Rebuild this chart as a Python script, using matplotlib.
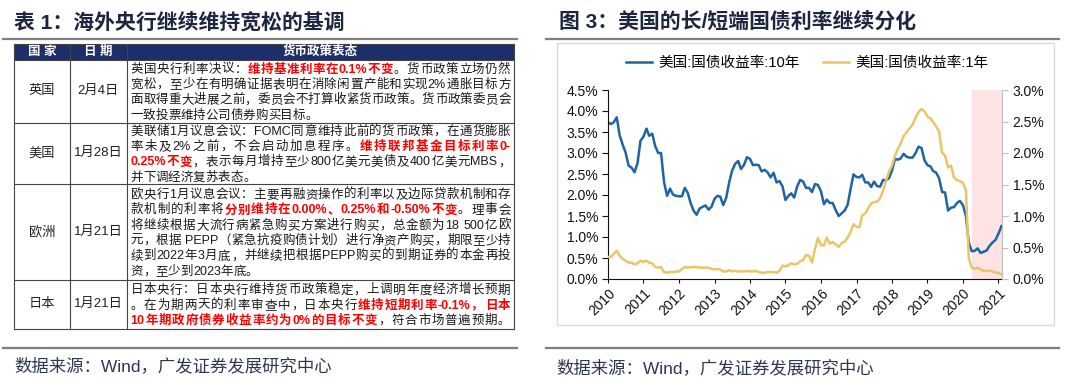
import numpy as np
import pandas as pd
import matplotlib
matplotlib.use('Agg')
import matplotlib.pyplot as plt
from matplotlib.patches import Rectangle
from matplotlib.ticker import FuncFormatter
from matplotlib.font_manager import FontProperties, findfont, get_font

plt.rcParams['font.family'] = ['Liberation Sans', 'Noto Sans CJK SC']

# ---- 数据 ----
left_title = '表 1：海外央行继续维持宽松的基调'
right_title = '图 3：美国的长/短端国债利率继续分化'
source = '数据来源：Wind，广发证券发展研究中心'

header = ['国 家', '日 期', '货币政策表态']
countries = ['英国', '美国', '欧洲', '日本']
dates = ['2月4日', '1月28日', '1月21日', '1月21日']
# {...} 表示红色加粗
policy = [
    ['英国央行利率决议：{维持基准利率在0.1%不变}。货币政策立场仍然',
     '宽松，至少在有明确证据表明在消除闲置产能和实现2%通胀目标方',
     '面取得重大进展之前，委员会不打算收紧货币政策。货币政策委员会',
     '一致投票维持公司债券购买目标。'],
    ['美联储1月议息会议：FOMC同意维持此前的货币政策，在通货膨胀',
     '率未及2%之前，不会启动加息程序。{维持联邦基金目标利率0-}',
     '{0.25%不变}，表示每月增持至少800亿美元美债及400亿美元MBS，',
     '并下调经济复苏表态。'],
    ['欧央行1月议息会议：主要再融资操作的利率以及边际贷款机制和存',
     '款机制的利率将{分别维持在0.00%、0.25%和-0.50%不变}。理事会',
     '将继续根据大流行病紧急购买方案进行购买，总金额为18 500亿欧',
     '元，根据 PEPP（紧急抗疫购债计划）进行净资产购买，期限至少持',
     '续到2022年3月底，并继续把根据PEPP购买的到期证券的本金再投',
     '资，至少到2023年底。'],
    ['日本央行：日本央行维持货币政策稳定，上调明年度经济增长预期',
     '。在为期两天的利率审查中，日本央行{维持短期利率-0.1%，日本}',
     '{10年期政府债券收益率约为0%的目标不变}，符合市场普遍预期。'],
]
justify = [[1, 1, 1, 0], [1, 1, 1, 0], [1, 1, 1, 1, 1, 0], [1, 1, 1]]

legend_labels = ['美国:国债收益率:10年', '美国:国债收益率:1年']
months = pd.date_range('2010-01-01', '2021-02-01', freq='MS')
# 美国10年期国债收益率（%），月度
y10 = [3.73, 3.69, 3.73, 3.85, 3.42, 3.20, 3.01, 2.70, 2.65, 2.54, 2.76, 3.29,
       3.39, 3.58, 3.41, 3.46, 3.17, 3.00, 3.00, 2.30, 1.98, 2.15, 2.01, 1.98,
       1.97, 1.97, 2.17, 2.05, 1.80, 1.62, 1.53, 1.68, 1.72, 1.75, 1.65, 1.72,
       1.91, 1.98, 1.96, 1.76, 1.93, 2.30, 2.58, 2.74, 2.81, 2.62, 2.72, 2.90,
       2.86, 2.71, 2.72, 2.71, 2.56, 2.60, 2.54, 2.42, 2.53, 2.30, 2.33, 2.21,
       1.88, 1.98, 2.04, 1.94, 2.20, 2.36, 2.32, 2.17, 2.17, 2.07, 2.26, 2.24,
       2.09, 1.78, 1.89, 1.81, 1.81, 1.64, 1.50, 1.56, 1.63, 1.76, 2.14, 2.49,
       2.43, 2.42, 2.48, 2.30, 2.30, 2.19, 2.32, 2.21, 2.20, 2.36, 2.35, 2.40,
       2.58, 2.86, 2.84, 2.87, 2.98, 2.91, 2.89, 2.89, 3.00, 3.15, 3.12, 2.83,
       2.71, 2.68, 2.57, 2.53, 2.40, 2.07, 2.06, 1.63, 1.70, 1.71, 1.81, 1.86,
       1.76, 1.50, 0.87, 0.66, 0.67, 0.73, 0.62, 0.65, 0.68, 0.79, 0.87, 0.93,
       1.08, 1.26]
# 美国1年期国债收益率（%），月度
y1 = [0.35, 0.35, 0.40, 0.45, 0.37, 0.32, 0.29, 0.26, 0.26, 0.23, 0.25, 0.29,
      0.27, 0.29, 0.26, 0.25, 0.19, 0.18, 0.19, 0.11, 0.10, 0.11, 0.11, 0.12,
      0.12, 0.16, 0.19, 0.18, 0.19, 0.19, 0.19, 0.18, 0.18, 0.18, 0.18, 0.16,
      0.15, 0.16, 0.15, 0.12, 0.12, 0.14, 0.12, 0.13, 0.12, 0.12, 0.12, 0.13,
      0.12, 0.12, 0.13, 0.11, 0.10, 0.10, 0.11, 0.11, 0.11, 0.10, 0.13, 0.21,
      0.20, 0.22, 0.25, 0.23, 0.24, 0.28, 0.30, 0.38, 0.37, 0.26, 0.48, 0.65,
      0.54, 0.53, 0.66, 0.56, 0.59, 0.55, 0.51, 0.57, 0.59, 0.66, 0.74, 0.87,
      0.83, 0.82, 1.01, 1.04, 1.12, 1.20, 1.22, 1.23, 1.28, 1.40, 1.56, 1.70,
      1.80, 1.96, 2.06, 2.15, 2.27, 2.33, 2.39, 2.45, 2.56, 2.65, 2.70, 2.66,
      2.58, 2.55, 2.49, 2.42, 2.34, 2.00, 1.96, 1.77, 1.80, 1.61, 1.57, 1.55,
      1.53, 1.41, 0.33, 0.18, 0.16, 0.18, 0.15, 0.13, 0.13, 0.13, 0.12, 0.10,
      0.10, 0.07]
shade_start, shade_end = '2020-04-01', '2021-02-01'

# ---- 画布 ----
W, H = 1080, 391
fig = plt.figure(figsize=(W / 100, H / 100), dpi=100)
axf = fig.add_axes([0, 0, 1, 1])
axf.set_xlim(0, W)
axf.set_ylim(H, 0)
axf.axis('off')

navy = '#1c2f6b'
title_c = '#1d2640'
src_c = '#2e3850'

# 标题和分隔线
for x0, x1, t in [(14.5, 517, left_title), (559, 1059, right_title)]:
    axf.text(x0, 22, t, fontsize=15, fontweight='bold', color=title_c, va='center')
for x0, x1 in [(3, 517), (546, 1059)]:
    axf.plot([x0, x1], [38.5, 38.5], color='#7f7f7f', lw=1.6)
    axf.plot([x0, x1], [348, 348], color='#7f7f7f', lw=1.6)
axf.text(14.5, 366, source, fontsize=12.5, color=src_c, va='center')
axf.text(556.5, 368, source, fontsize=12.5, color=src_c, va='center')

# ---- 表格 ----
col_x = [13.8, 70, 126.7, 514]
row_y = [43.7, 59.6, 122.7, 184, 280, 328.7]
axf.add_patch(Rectangle((col_x[0], row_y[0]), col_x[-1] - col_x[0], row_y[1] - row_y[0],
                        fc=navy, ec='none'))
for x in col_x:
    axf.plot([x, x], [row_y[0], row_y[-1]], color='#444444', lw=0.8)
for y in row_y:
    axf.plot([col_x[0], col_x[-1]], [y, y], color='#444444', lw=0.8)
for i, h in enumerate(header):
    axf.text((col_x[i] + col_x[i + 1]) / 2, (row_y[0] + row_y[1]) / 2 + 0.5, h,
             fontsize=9, fontweight='bold', color='white', ha='center', va='center')

FS = 9
px = FS * 100 / 72
lat_fonts = {}
for w in ['normal', 'bold']:
    f = get_font(findfont(FontProperties(family='Liberation Sans', weight=w)))
    f.set_size(FS, 100)
    lat_fonts[w] = f


def adv(ch, w):
    if ord(ch) < 128:
        g = lat_fonts[w].load_char(ord(ch))
        return g.linearHoriAdvance / 65536
    return px


def tokens(line):
    out = []
    red = False
    buf = ''
    for ch in line:
        if ch in '{}':
            if buf:
                out.append((buf, red))
                buf = ''
            red = ch == '{'
            continue
        if ord(ch) < 128 and ch != ' ':
            buf += ch
        else:
            if buf:
                out.append((buf, red))
                buf = ''
            out.append((ch, red))
    if buf:
        out.append((buf, red))
    return out


tx0, tx1 = col_x[2] + 3.8, col_x[3] - 3.5
for r in range(4):
    top, bot = row_y[r + 1], row_y[r + 2]
    cy = (top + bot) / 2
    axf.text((col_x[0] + col_x[1]) / 2, cy, countries[r], fontsize=9.5,
             color='#222222', ha='center', va='center')
    axf.text((col_x[1] + col_x[2]) / 2, cy, dates[r], fontsize=9.5,
             color='#222222', ha='center', va='center')
    lines = policy[r]
    sp = 15.3
    y0 = cy - (len(lines) - 1) / 2 * sp
    for k, line in enumerate(lines):
        toks = tokens(line)
        widths = [sum(adv(c, 'bold' if red else 'normal') for c in t) for t, red in toks]
        gap = 0
        if justify[r][k] and len(toks) > 1:
            gap = (tx1 - tx0 - sum(widths)) / (len(toks) - 1)
        x = tx0
        yb = y0 + k * sp + 4.4
        for (t, red), wd in zip(toks, widths):
            axf.text(x, yb, t, fontsize=FS, va='baseline', ha='left',
                     color='#ff0000' if red else '#1a1a1a',
                     fontweight='bold' if red else 'normal')
            x += wd + gap

# ---- 图 ----
axf.add_patch(Rectangle((556.5, 43), 1054 - 556.5, 325 - 43, fc='none',
                        ec='#d9d9d9', lw=1))

ax = fig.add_axes([608 / W, 1 - 279 / H, (1001.5 - 608) / W, (279 - 90) / H])
ax2 = ax.twinx()
ax.axvspan(pd.Timestamp(shade_start), pd.Timestamp(shade_end), color='#fde3e3', lw=0, zorder=0)
l1, = ax.plot(months, y10, color='#1f65a3', lw=1.8)
l2, = ax2.plot(months, y1, color='#e8c566', lw=1.8)

ax.set_xlim(pd.Timestamp('2010-01-01'), pd.Timestamp('2021-02-01'))
ax.set_ylim(0, 4.5)
ax2.set_ylim(0, 3.0)
ax.set_yticks(np.arange(0, 4.51, 0.5))
ax2.set_yticks(np.arange(0, 3.01, 0.5))
fmt = FuncFormatter(lambda v, p: f'{v:.1f}%')
ax.yaxis.set_major_formatter(fmt)
ax2.yaxis.set_major_formatter(fmt)
years = pd.date_range('2010-01-01', '2021-01-01', freq='YS')
ax.set_xticks(years)
ax.set_xticklabels([str(d.year) for d in years], rotation=45, ha='right',
                   va='top', rotation_mode='anchor')

for a in (ax, ax2):
    a.spines['top'].set_visible(False)
ax.spines['right'].set_visible(False)
ax2.spines['left'].set_visible(False)
ax2.spines['bottom'].set_visible(False)
ax2.spines['right'].set_color('#bfbfbf')
ax.spines['left'].set_color('#111111')
ax.spines['bottom'].set_color('#111111')
ax.tick_params(axis='y', length=4, width=0.8, labelsize=10, pad=3, colors='#111111')
ax.tick_params(axis='x', length=3, width=0.8, labelsize=10, pad=2, colors='#111111')
ax2.tick_params(axis='y', length=4, width=0.8, labelsize=10, pad=4,
                color='#bfbfbf', labelcolor='#111111')

fig.legend([l1, l2], legend_labels, loc='center', bbox_to_anchor=(807 / W, 1 - 63 / H),
           ncol=2, frameon=False, fontsize=10.5, handlelength=1.8, handletextpad=0.4,
           columnspacing=1.6)

fig.savefig('out.png', dpi=100)
